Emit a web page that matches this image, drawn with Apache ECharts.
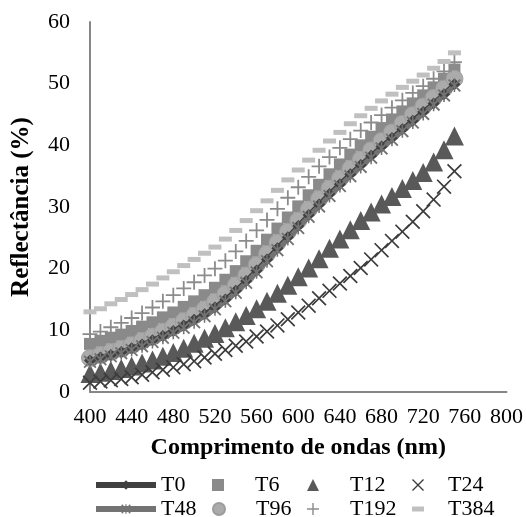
<!DOCTYPE html>
<html>
<head>
<meta charset="utf-8">
<script src="https://cdn.jsdelivr.net/npm/echarts@6/dist/echarts.min.js"></script>
<style>
  html, body { margin: 0; padding: 0; background: #fff; }
  #chart { width: 526px; height: 517px; }
</style>
</head>
<body>
<div id="chart"></div>
<script>
// comprimento de onda (nm)
var wl = [400, 410, 420, 430, 440, 450, 460, 470, 480, 490, 500, 510, 520, 530, 540, 550, 560, 570,
          580, 590, 600, 610, 620, 630, 640, 650, 660, 670, 680, 690, 700, 710, 720, 730, 740, 750];

// reflectância (%) por tratamento
var t0 = [5.1, 5.6, 6.0, 6.5, 7.1, 7.7, 8.4, 9.1, 9.9, 10.8, 11.7, 12.6, 13.7, 15.0, 16.4, 18.0, 19.7, 21.5,
          23.3, 25.1, 26.9, 28.7, 30.4, 32.1, 33.7, 35.3, 36.8, 38.3, 39.8, 41.2, 42.6, 44.0, 45.4, 46.8, 48.3, 49.9];
var t6 = [7.8, 8.3, 8.8, 9.3, 9.9, 10.6, 11.3, 12.1, 12.9, 13.8, 14.7, 15.7, 16.9, 18.2, 19.6, 21.2, 22.9, 24.7,
          26.5, 28.3, 30.1, 31.9, 33.6, 35.3, 36.9, 38.5, 40.0, 41.4, 42.8, 44.2, 45.5, 46.8, 48.1, 49.4, 50.8, 52.3];
var t12 = [3.0, 3.2, 3.5, 3.8, 4.2, 4.7, 5.2, 5.8, 6.4, 7.1, 7.9, 8.7, 9.5, 10.4, 11.4, 12.4, 13.5, 14.7,
           16.0, 17.3, 18.7, 20.1, 21.6, 23.3, 24.8, 26.3, 27.8, 29.2, 30.5, 31.7, 33.0, 34.3, 35.6, 37.3, 39.3, 41.5];
var t24 = [1.5, 1.7, 1.9, 2.1, 2.4, 2.8, 3.2, 3.6, 4.0, 4.5, 5.0, 5.6, 6.2, 6.8, 7.5, 8.2, 9.0, 9.8,
           10.8, 11.8, 12.9, 14.0, 15.2, 16.4, 17.6, 18.8, 20.1, 21.5, 23.0, 24.5, 26.0, 27.6, 29.3, 31.2, 33.3, 35.8];
var t48 = [4.9, 5.3, 5.8, 6.3, 6.8, 7.4, 8.1, 8.8, 9.6, 10.4, 11.3, 12.3, 13.4, 14.7, 16.1, 17.7, 19.4, 21.2,
           23.0, 24.8, 26.6, 28.4, 30.1, 31.8, 33.4, 35.0, 36.5, 38.0, 39.5, 40.9, 42.3, 43.7, 45.1, 46.6, 48.1, 49.7];
var t96 = [5.5, 6.0, 6.5, 7.0, 7.6, 8.3, 9.0, 9.8, 10.6, 11.5, 12.4, 13.4, 14.6, 15.9, 17.3, 18.9, 20.6, 22.4,
           24.2, 26.0, 27.8, 29.6, 31.3, 33.0, 34.6, 36.2, 37.7, 39.2, 40.7, 42.1, 43.5, 44.9, 46.3, 47.7, 49.2, 50.8];
var t192 = [9.4, 9.8, 10.5, 11.2, 12.0, 12.8, 13.7, 14.7, 15.7, 16.8, 17.8, 18.9, 20.0, 21.3, 22.8, 24.5, 26.2, 27.9,
            29.7, 31.5, 33.2, 34.9, 36.6, 38.1, 39.6, 41.0, 42.4, 43.7, 44.9, 46.1, 47.3, 48.5, 49.6, 50.8, 52.0, 53.5];
var t384 = [13.0, 13.5, 14.3, 15.0, 15.8, 16.6, 17.5, 18.5, 19.5, 20.5, 21.5, 22.5, 23.5, 24.8, 26.2, 27.8, 29.4, 31.0,
            32.7, 34.4, 36.0, 37.6, 39.2, 40.7, 42.1, 43.5, 44.8, 46.0, 47.2, 48.3, 49.4, 50.4, 51.4, 52.5, 53.6, 55.0];

var xTicks = [400, 800, 40];
var yTicks = [0, 60, 10];

// marcadores
var xMark = 'path://M0,0.8 L0.8,0 L5,4.2 L9.2,0 L10,0.8 L5.8,5 L10,9.2 L9.2,10 L5,5.8 L0.8,10 L0,9.2 L4.2,5 Z';
var plusMark = 'path://M4.4,0 H5.6 V4.4 H10 V5.6 H5.6 V10 H4.4 V5.6 H0 V4.4 H4.4 Z';
var starMark = 'path://M0,1 L1,0 L5,4 L9,0 L10,1 L6,5 L10,9 L9,10 L5,6 L1,10 L0,9 L4,5 Z M4.4,0 H5.6 V10 H4.4 Z';
var dashMark = 'path://M0,0 H12 V5 H0 Z';

function pairs(vals) {
  return wl.map(function (w, i) { return [w, vals[i]]; });
}

var font = 'Liberation Serif, Times New Roman, serif';

var series = [
  { name: 'T0', type: 'line', data: pairs(t0), symbol: 'diamond', symbolSize: 12,
    lineStyle: { color: '#404040', width: 5 }, itemStyle: { color: '#404040' } },
  { name: 'T6', type: 'scatter', data: pairs(t6), symbol: 'rect', symbolSize: 12,
    itemStyle: { color: '#8a8a8a', opacity: 1 } },
  { name: 'T12', type: 'scatter', data: pairs(t12), symbol: 'triangle', symbolSize: 19,
    itemStyle: { color: '#595959', opacity: 1 } },
  { name: 'T24', type: 'scatter', data: pairs(t24), symbol: xMark, symbolSize: 15,
    itemStyle: { color: '#3c3c3c', opacity: 1 } },
  { name: 'T48', type: 'line', data: pairs(t48), symbol: starMark, symbolSize: 13,
    lineStyle: { color: '#737373', width: 5 }, itemStyle: { color: '#737373' } },
  { name: 'T96', type: 'scatter', data: pairs(t96), symbol: 'circle', symbolSize: 17,
    itemStyle: { color: '#ababab', borderColor: '#9c9c9c', borderWidth: 1, opacity: 1 } },
  { name: 'T192', type: 'scatter', data: pairs(t192), symbol: plusMark, symbolSize: 15,
    itemStyle: { color: '#8c8c8c', opacity: 1 } },
  { name: 'T384', type: 'scatter', data: pairs(t384), symbol: dashMark, symbolSize: [13, 5],
    itemStyle: { color: '#c0c0c0', opacity: 1 } }
];
series.forEach(function (s) {
  s.animation = false;
  s.showSymbol = true;
  s.emphasis = { disabled: true };
});

// legenda: posição de cada item (x do ícone, linha, recuo do texto)
var legendPos = [
  { name: 'T0',   left: 93,  row: 0, w: 60, pad: 0 },
  { name: 'T6',   left: 212, row: 0, w: 12, pad: 26 },
  { name: 'T12',  left: 307, row: 0, w: 12, pad: 26 },
  { name: 'T24',  left: 412, row: 0, w: 12, pad: 19 },
  { name: 'T48',  left: 93,  row: 1, w: 60, pad: 0 },
  { name: 'T96',  left: 212, row: 1, w: 12, pad: 26 },
  { name: 'T192', left: 307, row: 1, w: 12, pad: 26 },
  { name: 'T384', left: 412, row: 1, w: 12, pad: 19 }
];
var legends = legendPos.map(function (p) {
  return {
    data: [p.name],
    left: p.left,
    top: p.row === 0 ? 474 : 498,
    padding: 0,
    itemWidth: p.w,
    itemHeight: 12,
    selectedMode: false,
    lineStyle: { width: 6 },
    textStyle: { fontFamily: font, fontSize: 22, color: '#000', padding: [0, 0, 0, p.pad] }
  };
});

var chart = echarts.init(document.getElementById('chart'));
chart.setOption({
  backgroundColor: '#fff',
  animation: false,
  legend: legends,
  grid: { left: 90, right: 19, top: 22, bottom: 125 },
  xAxis: {
    type: 'value',
    min: xTicks[0], max: xTicks[1], interval: xTicks[2],
    name: 'Comprimento de ondas (nm)',
    nameLocation: 'middle',
    nameGap: 44,
    nameTextStyle: { fontFamily: font, fontSize: 24, fontWeight: 'bold', color: '#000' },
    axisLine: { lineStyle: { color: '#868686', width: 2 } },
    axisTick: { show: false },
    splitLine: { show: false },
    axisLabel: { fontFamily: font, fontSize: 22, color: '#000', margin: 14 }
  },
  yAxis: {
    type: 'value',
    min: yTicks[0], max: yTicks[1], interval: yTicks[2],
    name: 'Reflectância (%)',
    nameLocation: 'middle',
    nameGap: 56,
    nameTextStyle: { fontFamily: font, fontSize: 25, fontWeight: 'bold', color: '#000' },
    axisLine: { show: true, lineStyle: { color: '#868686', width: 2 } },
    axisTick: { show: false },
    splitLine: { show: false },
    axisLabel: { fontFamily: font, fontSize: 22, color: '#000', margin: 20 }
  },
  series: series
});
</script>
</body>
</html>
